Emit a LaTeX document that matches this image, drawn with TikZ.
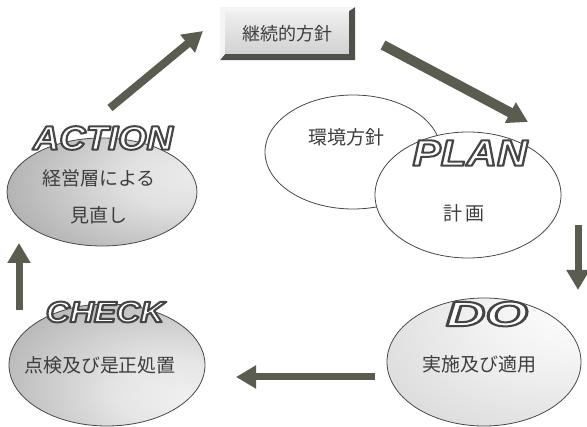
\documentclass[tikz,border=0pt]{standalone}
\usepackage{fontspec}
\usetikzlibrary{shapes.geometric,arrows.meta,backgrounds}

\newfontfamily\jpfont{Noto Sans CJK JP}
\newfontfamily\wordfont{Liberation Sans}

\definecolor{arrowgray}{HTML}{5A5C50}
\definecolor{inkgray}{HTML}{3E3E3E}
\definecolor{rimgray}{HTML}{474747}
\definecolor{bevdark}{HTML}{4E504A}

% soft gray fills with an off-centre highlight
\pgfdeclareradialshading{actionshade}{\pgfpoint{24bp}{8bp}}{%
  color(0bp)=(black!8); color(14bp)=(black!12); color(50bp)=(black!38); color(85bp)=(black!48)}
\pgfdeclareradialshading{checkshade}{\pgfpoint{20bp}{-14bp}}{%
  color(0bp)=(black!6); color(14bp)=(black!10); color(50bp)=(black!35); color(85bp)=(black!46)}
\pgfdeclareradialshading{doshade}{\pgfpoint{26bp}{24bp}}{%
  color(0bp)=(white); color(20bp)=(black!5); color(60bp)=(black!19); color(95bp)=(black!32)}

% hollow outlined headline word: white face, dark rim (PDF fill+stroke text mode)
\newcommand{\hollowword}[2]{%
  \scalebox{#1}[1]{\color{white}%
    \special{pdf:literal direct 0.27 0.27 0.27 RG 2 w 1 j 2 Tr}#2%
    \special{pdf:literal direct 0 Tr}}}

\tikzset{
  stage/.style={ellipse, draw=rimgray, line width=0.8pt, inner sep=0pt},
  plainstage/.style={stage, fill=white},
  jptext/.style={font=\jpfont\fontsize{19pt}{21pt}\selectfont, text=inkgray, inner sep=0pt},
  headword/.style={inner sep=0pt},
  flowarrow/.style={draw=arrowgray, line width=#1, -{Triangle[width=22pt,length=20pt]}, arrowgray},
}

\begin{document}
\begin{tikzpicture}[x=1pt,y=-1pt]
\useasboundingbox (0,0) rectangle (587,427);

% ---- continuing policy box with bevel ----
\node[jptext, font=\jpfont\fontsize{18pt}{20pt}\selectfont, minimum width=135pt, minimum height=53pt] (policy) at (287.5,33.5) {継続的方針};
\begin{pgfonlayer}{background}
  \fill[black!12] (policy.north west) rectangle (policy.south east);
  \shade[top color=black!6, bottom color=black!18]
    ([shift={(5pt,-4pt)}]policy.north west) rectangle ([shift={(-6pt,6pt)}]policy.south east);
  \fill[bevdark] (policy.south west) -- (policy.south east) -- (policy.north east)
    -- ([shift={(-6pt,-4pt)}]policy.north east) -- ([shift={(-6pt,6pt)}]policy.south east)
    -- ([shift={(5pt,6pt)}]policy.south west) -- cycle;
  \fill[black!4] (policy.north west) -- (policy.north east) -- ([shift={(-6pt,-4pt)}]policy.north east)
    -- ([shift={(5pt,-4pt)}]policy.north west) -- ([shift={(5pt,6pt)}]policy.south west)
    -- (policy.south west) -- cycle;
\end{pgfonlayer}

% ---- ACTION ----
\node[stage, shading=actionshade, minimum width=190pt, minimum height=108pt] (action) at (102,192) {};
\node[jptext] (actionline1) at (99,178) {経営層による};
\node[jptext] (actionline2) at (99,215) {見直し};
\node[headword, font=\wordfont\bfseries\itshape\fontsize{33.5pt}{36pt}\selectfont] (actionword) at (103,138) {\hollowword{1.09}{ACTION}};

% ---- environmental policy and PLAN ----
\node[plainstage, minimum width=176pt, minimum height=114pt] (envpolicy) at (353,152) {};
\node[jptext] (envtext) at (346,137) {環境方針};
\node[plainstage, minimum width=186pt, minimum height=126pt] (plan) at (468,195) {};
\node[jptext] (plantext) at (464,213) {計\hspace{4pt}画};
\node[headword, font=\wordfont\bfseries\itshape\fontsize{37pt}{40pt}\selectfont] (planword) at (470,153) {\hollowword{1.14}{PLAN}};

% ---- DO ----
\node[stage, shading=doshade, minimum width=194pt, minimum height=128pt] (do) at (484,362) {};
\node[jptext] (dotext) at (479,364) {実施及び適用};
\node[headword, font=\wordfont\bfseries\itshape\fontsize{35pt}{38pt}\selectfont] (doword) at (487,314) {\hollowword{1.56}{DO}};

% ---- CHECK ----
\node[stage, shading=checkshade, minimum width=196pt, minimum height=122pt] (check) at (107,365) {};
\node[jptext] (checktext) at (100,365) {点検及び是正処置};
\node[headword, font=\wordfont\bfseries\itshape\fontsize{29.5pt}{32pt}\selectfont] (checkword) at (105,312) {\hollowword{1.13}{CHECK}};

% ---- cycle arrows ----
\coordinate (a1s) at (110,108); \coordinate (a1e) at (203,31);
\coordinate (a2s) at (383,45);  \coordinate (a2e) at (528,122);
\coordinate (a3s) at (578,225); \coordinate (a3e) at (578,290);
\coordinate (a4s) at (375,377); \coordinate (a4e) at (236,377);
\coordinate (a5s) at (19,310);  \coordinate (a5e) at (19,243);

\draw[flowarrow=8pt] (a1s) -- (a1e);
\draw[flowarrow=10pt] (a2s) -- (a2e);
\draw[flowarrow=7pt] (a3s) -- (a3e);
\draw[flowarrow=7pt] (a4s) -- (a4e);
\draw[flowarrow=7pt] (a5s) -- (a5e);
\end{tikzpicture}
\end{document}
